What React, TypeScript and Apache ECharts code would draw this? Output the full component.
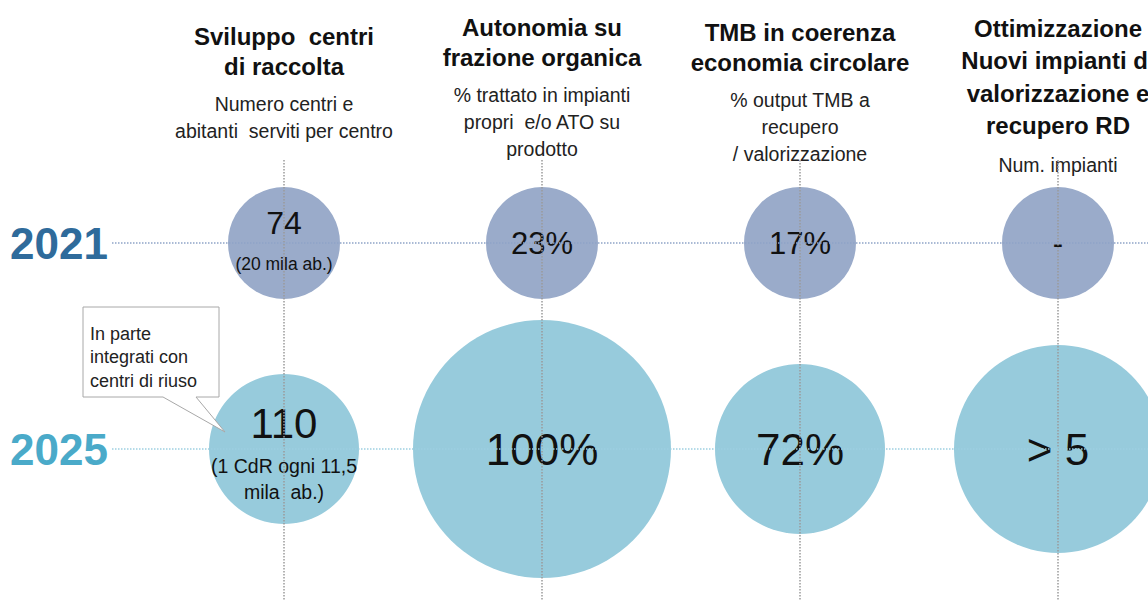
import React, { useEffect, useRef } from "react";
import * as echarts from "echarts";

// ---------- data ----------
const columns = ["sviluppo", "autonomia", "tmb", "impianti"];
const headerTitles = [
  "Sviluppo  centri\ndi raccolta",
  "Autonomia su\nfrazione organica",
  "TMB in coerenza\neconomia circolare",
  "Ottimizzazione\nNuovi impianti di\nvalorizzazione e\nrecupero RD",
];
const headerSubtitles = [
  "Numero centri e\nabitanti  serviti per centro",
  "% trattato in impianti\npropri  e/o ATO su\nprodotto",
  "% output TMB a\nrecupero\n/ valorizzazione",
  "Num. impianti",
];
const years = ["2021", "2025"];
const values2021 = ["74", "23%", "17%", "-"];
const notes2021 = ["(20 mila ab.)", "", "", ""];
const values2025 = ["110", "100%", "72%", "> 5"];
const notes2025 = ["(1 CdR ogni 11,5\nmila  ab.)", "", "", ""];
const bubbleDiameter2021 = [112, 112, 112, 112];
const bubbleDiameter2025 = [150, 258, 170, 208];
const calloutText = "In parte\nintegrati con\ncentri di riuso";

const FONT = '"Liberation Sans", Arial, sans-serif';

export default function App() {
  const ref = useRef<HTMLDivElement>(null);
  useEffect(() => {
    if (!ref.current) return;
    const chart = echarts.init(ref.current, undefined, { renderer: "svg" });

    const topPad = [9, 0, 5, 0];
    const headerFormatter = (_v: string, i: number) => {
      const parts: string[] = [];
      if (topPad[i] > 0) parts.push(`{p${i}| }`);
      const tStyle = i === 3 ? "t4" : "t";
      parts.push(`{${tStyle}|${headerTitles[i]}}`);
      parts.push(`{g| }`);
      parts.push(`{s|${headerSubtitles[i]}}`);
      return parts.join("\n");
    };

    const vStyle = { color: "#9a9a9a", type: "dotted", width: 1.5 };
    const vLines = columns.map((_, i) => [
      { coord: [i, 0], y: 160, lineStyle: vStyle },
      { coord: [i, 1], y: 601, lineStyle: vStyle },
    ]);
    const hColors = ["#8fa4c8", "#9dd0e1"];
    const hLines = years.map((_, j) => [
      { coord: [0, j], x: 112, lineStyle: { color: hColors[j], type: "dotted", width: 1.5 } },
      { coord: [columns.length - 1, j], x: 1148, lineStyle: { color: hColors[j], type: "dotted", width: 1.5 } },
    ]);

    const bubbleLabel = (values: string[], notes: string[], big: boolean) => ({
      show: true,
      position: "inside",
      color: "#111",
      fontFamily: FONT,
      formatter: (p: any) => {
        const i = p.dataIndex;
        if (notes[i]) return `{v${big ? "b" : "s"}n|${values[i]}}\n{n|${notes[i]}}`;
        return `{v${big ? "b" : "s"}|${values[i]}}`;
      },
      rich: {
        vs: { fontSize: 31, fontFamily: FONT, color: "#111" },
        vb: { fontSize: 44, fontFamily: FONT, color: "#111" },
        vsn: { fontSize: 32, lineHeight: 42, fontFamily: FONT, color: "#111" },
        vbn: { fontSize: 42, lineHeight: 60, fontFamily: FONT, color: "#111" },
        n: { fontSize: big ? 19.5 : 17.5, lineHeight: big ? 26 : 40, fontFamily: FONT, color: "#111" },
      },
    });

    chart.setOption({
      animation: false,
      backgroundColor: "#ffffff",
      grid: {
        left: 284,
        right: 90,
        top: 243,
        bottom: 152,
        containLabel: false,
        outerBoundsMode: "none",
      },
      xAxis: {
        type: "category",
        data: columns,
        position: "top",
        boundaryGap: false,
        axisLine: { show: false },
        axisTick: { show: false },
        splitLine: { show: false },
        axisLabel: {
          interval: 0,
          margin: 231,
          verticalAlign: "top",
          align: "center",
          formatter: headerFormatter,
          rich: {
            p0: { fontSize: 1, lineHeight: 9 },
            p2: { fontSize: 1, lineHeight: 5 },
            t: { fontSize: 24, fontWeight: "bold", fontFamily: FONT, color: "#111", lineHeight: 30 },
            t4: { fontSize: 24, fontWeight: "bold", fontFamily: FONT, color: "#111", lineHeight: 32.5 },
            g: { fontSize: 1, lineHeight: 9 },
            s: { fontSize: 19.5, fontFamily: FONT, color: "#222", lineHeight: 27 },
          },
        },
      },
      yAxis: {
        type: "category",
        data: years,
        inverse: true,
        boundaryGap: false,
        axisLine: { show: false },
        axisTick: { show: false },
        splitLine: { show: false },
        axisLabel: {
          align: "left",
          margin: 274,
          fontSize: 44,
          fontWeight: "bold",
          fontFamily: FONT,
          color: (_v: any, i: number) => (i === 0 ? "#2f6b9b" : "#4aaac9"),
        },
      },
      series: [
        {
          type: "scatter",
          name: "guides",
          data: [],
          z: 1,
          clip: false,
          silent: true,
          markLine: {
            silent: true,
            symbol: ["none", "none"],
            label: { show: false },
            data: [...vLines, ...hLines],
          },
        },
        {
          type: "scatter",
          name: years[0],
          z: 3,
          silent: true,
          clip: false,
          data: columns.map((c, i) => [i, 0, bubbleDiameter2021[i]]),
          symbolSize: (v: number[]) => v[2],
          itemStyle: { color: "#9aabca", opacity: 1 },
          label: bubbleLabel(values2021, notes2021, false),
        },
        {
          type: "scatter",
          name: years[1],
          z: 3,
          silent: true,
          clip: false,
          data: columns.map((c, i) => [i, 1, bubbleDiameter2025[i]]),
          symbolSize: (v: number[]) => v[2],
          itemStyle: { color: "#97cbdc", opacity: 1 },
          label: bubbleLabel(values2025, notes2025, true),
        },
      ],
      graphic: [
        {
          type: "group",
          z: 100,
          children: [
            {
              type: "polygon",
              shape: {
                points: [
                  [83, 307],
                  [219, 307],
                  [219, 397],
                  [196, 397],
                  [225, 432],
                  [163, 397],
                  [83, 397],
                ],
              },
              style: { fill: "#ffffff", stroke: "#a8a8a8", lineWidth: 1 },
              z: 100,
            },
            {
              type: "text",
              x: 90,
              y: 322,
              z: 101,
              style: {
                text: calloutText,
                fontSize: 18,
                lineHeight: 23.5,
                fontFamily: FONT,
                fill: "#222",
              },
            },
          ],
        },
      ],
    });
    return () => chart.dispose();
  }, []);
  return <div ref={ref} style={{ position: "absolute", left: 0, top: 0, width: 1148, height: 601 }} />;
}
